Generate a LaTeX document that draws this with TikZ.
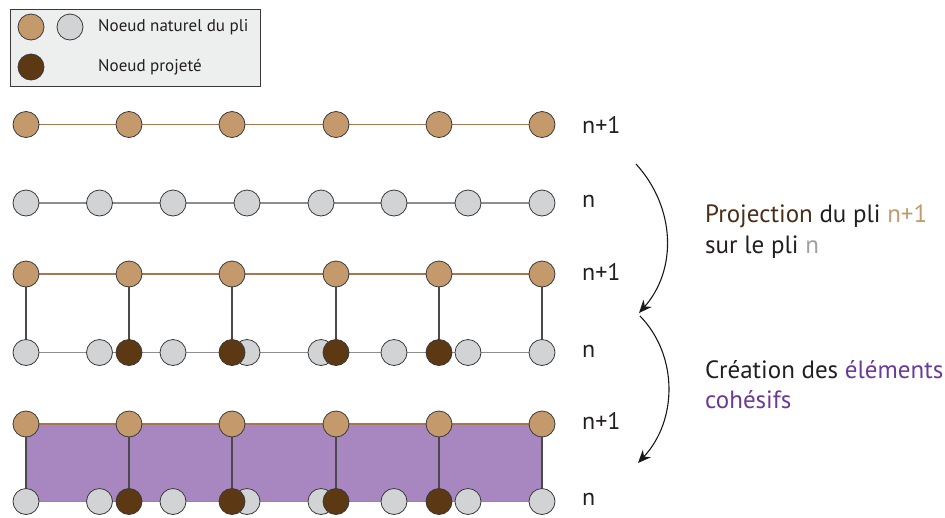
\documentclass[tikz,border=0pt]{standalone}
\usepackage{fontspec}
\setmainfont{PT Sans}
\usetikzlibrary{backgrounds,arrows.meta}
\definecolor{tanfill}{HTML}{C49A6C}
\definecolor{greyfill}{HTML}{D1D3D4}
\definecolor{darkfill}{HTML}{5C3813}
\definecolor{outl}{HTML}{3A3A3A}
\definecolor{tanline}{HTML}{A87650}
\definecolor{greyline}{HTML}{8E8E8E}
\definecolor{vline}{HTML}{4A4A4A}
\definecolor{purplefill}{HTML}{A887C0}
\definecolor{purpletext}{HTML}{6A3A9A}
\definecolor{browntext}{HTML}{4A2E18}
\definecolor{greytext}{HTML}{A0A0A0}
\definecolor{txt}{HTML}{231F20}
\definecolor{legfill}{HTML}{EDEEEE}
\tikzset{
  dot/.style={circle,draw=outl,line width=0.8pt,minimum size=26pt,inner sep=0pt},
  tandot/.style={dot,fill=tanfill},
  greydot/.style={dot,fill=greyfill},
  darkdot/.style={dot,fill=darkfill},
  tanconn/.style={draw=tanline,line width=1.1pt},
  greyconn/.style={draw=greyline,line width=1.3pt},
  vconn/.style={draw=vline,line width=1.2pt},
  rowlabel/.style={anchor=west,inner sep=0pt,font=\fontsize{24}{28}\selectfont,text=txt},
  legtext/.style={anchor=west,inner sep=0pt,font=\fontsize{17}{20}\selectfont,text=txt},
  bigtext/.style={anchor=west,inner sep=0pt,font=\fontsize{25}{30}\selectfont,text=txt},
  arrowline/.style={draw=black!90,line width=1.1pt,-{Stealth[length=13pt,width=11pt]}}
}
\begin{document}
\begin{tikzpicture}[x=1pt,y=-1pt]
\useasboundingbox (0,0) rectangle (945,517);
% legend
\node[draw=outl,fill=legfill,line width=0.8pt,minimum width=250pt,minimum height=77pt,inner sep=0pt,anchor=north west] (leg) at (10,9) {};
\node[tandot] (l1) at (31,27) {};
\node[greydot] (l2) at (70,27) {};
\node[darkdot] (l3) at (31,67) {};
\node[legtext] (lt1) at (98,27) {Noeud naturel du pli};
\node[legtext] (lt2) at (98,67) {Noeud projeté};

% row 1 (n+1)
\foreach \i/\x in {1/26,2/129,3/232,4/336,5/439,6/542}
  \node[tandot] (a\i) at (\x,124.5) {};
% row 2 (n)
\foreach \i/\x in {1/26,2/99.5,3/173,4/247,5/321,6/394,7/468,8/542}
  \node[greydot] (b\i) at (\x,203) {};
% row 3 (n+1)
\foreach \i/\x in {1/26,2/129,3/232,4/336,5/439,6/542}
  \node[tandot] (c\i) at (\x,274) {};
% row 4 (n)
\foreach \i/\x in {1/26,2/99.5,3/173,4/247,5/321,6/394,7/468,8/542}
  \node[greydot] (d\i) at (\x,352.5) {};
\foreach \i/\x in {2/129,3/232,4/336,5/439}
  \node[darkdot] (p\i) at (\x,352.5) {};
% row 5 (n+1)
\foreach \i/\x in {1/26,2/129,3/232,4/336,5/439,6/542}
  \node[tandot] (e\i) at (\x,424) {};
% row 6 (n)
\foreach \i/\x in {1/26,2/99.5,3/173,4/247,5/321,6/394,7/468,8/542}
  \node[greydot] (f\i) at (\x,501.5) {};
\foreach \i/\x in {2/129,3/232,4/336,5/439}
  \node[darkdot] (q\i) at (\x,501.5) {};

\begin{pgfonlayer}{background}
  \fill[purplefill] (e1.center) rectangle (f8.center);
  \draw[tanconn] (a1.center) -- (a6.center);
  \draw[greyconn] (b1.center) -- (b8.center);
  \draw[tanconn] (c1.center) -- (c6.center);
  \draw[greyconn] (d1.center) -- (d8.center);
  \draw[tanconn] (e1.center) -- (e6.center);
  \draw[greyconn] (f1.center) -- (f8.center);
  \draw[vconn] (c1.center) -- (d1.center);
  \draw[vconn] (c6.center) -- (d8.center);
  \draw[vconn] (e1.center) -- (f1.center);
  \draw[vconn] (e6.center) -- (f8.center);
  \foreach \i in {2,3,4,5} {
    \draw[vconn] (c\i.center) -- (p\i.center);
    \draw[vconn] (e\i.center) -- (q\i.center);
  }
\end{pgfonlayer}

% row labels
\node[rowlabel] (r1) at (582,124.5) {n+1};
\node[rowlabel] (r2) at (582,201) {n};
\node[rowlabel] (r3) at (582,272) {n+1};
\node[rowlabel] (r4) at (582,351) {n};
\node[rowlabel] (r5) at (582,421) {n+1};
\node[rowlabel] (r6) at (582,499) {n};

% arrows
\coordinate (s1) at (636,164);
\coordinate (m1) at (639,313);
\coordinate (m2) at (640,316);
\coordinate (t2) at (638,463);
\draw[arrowline] (s1) .. controls (676,208) and (677,270) .. (m1);
\draw[arrowline] (m2) .. controls (678,355) and (678,420) .. (t2);

% texts
\node[bigtext] (x1) at (705,216) {\textcolor{browntext}{Projection} du pli \textcolor{tanfill}{n+1}};
\node[bigtext] (x2) at (705,247) {sur le pli \textcolor{greytext}{n}};
\node[bigtext] (x3) at (705,370) {Création des \textcolor{purpletext}{éléments}};
\node[bigtext,text=purpletext] (x4) at (705,400) {cohésifs};
\end{tikzpicture}
\end{document}
